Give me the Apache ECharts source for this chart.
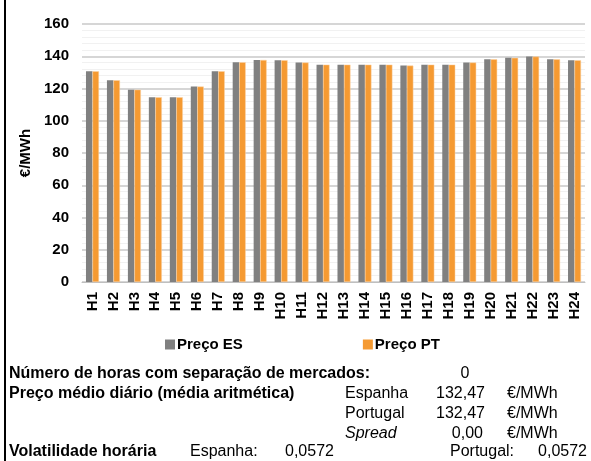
<!DOCTYPE html>
<html>
<head>
<meta charset="utf-8">
<script src="https://cdn.jsdelivr.net/npm/echarts@6/dist/echarts.min.js"></script>
<style>
  html, body { margin: 0; padding: 0; background: #fff; }
  #chart { width: 591px; height: 461px; }
</style>
</head>
<body>
<div id="chart"></div>
<script>
// dados
var horas = ['H1','H2','H3','H4','H5','H6','H7','H8','H9','H10','H11','H12',
             'H13','H14','H15','H16','H17','H18','H19','H20','H21','H22','H23','H24'];
var precoES = [130.7,125.1,119.3,114.6,114.6,121.2,130.7,136.3,137.7,137.5,136.1,134.8,
               134.8,134.8,134.8,134.2,134.8,134.8,136.1,138.1,139.0,139.8,138.1,137.5];
var precoPT = [130.7,125.1,119.3,114.6,114.6,121.2,130.7,136.3,137.7,137.5,136.1,134.8,
               134.8,134.8,134.8,134.2,134.8,134.8,136.1,138.1,139.0,139.8,138.1,137.5];
var yTicks = [0, 20, 40, 60, 80, 100, 120, 140, 160];

var chart = echarts.init(document.getElementById('chart'));
var fonte = 'Liberation Sans, Arial, sans-serif';

// texto da tabela em baixo
function txt(x, y, s, opts) {
    opts = opts || {};
    return {
        type: 'text', x: x, y: y,
        style: {
            text: s, fill: '#000',
            font: (opts.italic ? 'italic ' : '') + (opts.bold ? 'bold ' : '') + '16px ' + fonte,
            align: opts.align || 'left', verticalAlign: 'middle',
            textAlign: opts.align || 'left', textVerticalAlign: 'middle'
        }
    };
}

var option = {
    animation: false,
    textStyle: { fontFamily: fonte },
    grid: { left: 82, right: 6, top: 24, bottom: 179 },
    legend: {
        data: ['Preço ES', 'Preço PT'],
        left: 160, top: 332,
        itemWidth: 10, itemHeight: 10, itemGap: 120,
        icon: 'rect',
        itemStyle: { borderWidth: 0 },
        textStyle: { fontSize: 15, fontWeight: 'bold', color: '#000', fontFamily: fonte, padding: [0, 0, 0, -3] }
    },
    xAxis: {
        type: 'category',
        data: horas,
        axisLine: { lineStyle: { color: '#bfbfbf', width: 1 } },
        axisTick: { show: false },
        axisLabel: { rotate: 90, fontSize: 15, fontWeight: 'bold', color: '#000', margin: 10, interval: 0 }
    },
    yAxis: {
        type: 'value',
        min: yTicks[0], max: yTicks[yTicks.length - 1], interval: 20,
        name: '€/MWh',
        nameLocation: 'middle',
        nameGap: 46,
        nameRotate: 90,
        nameTextStyle: { fontSize: 15, fontWeight: 'bold', color: '#000' },
        axisLine: { show: false },
        axisTick: { show: false },
        axisLabel: { fontSize: 15, fontWeight: 'bold', color: '#000', margin: 13 },
        splitLine: { lineStyle: { color: '#c9c9c9', width: 1.5 } },
        minorTick: { show: false, splitNumber: 5 },
        minorSplitLine: { show: true, lineStyle: { color: '#f1f1f1', width: 1 } }
    },
    series: [
        {
            name: 'Preço ES', type: 'bar', data: precoES,
            itemStyle: { color: '#808080' },
            barWidth: 6.5, barGap: '0%'
        },
        {
            name: 'Preço PT', type: 'bar', data: precoPT,
            itemStyle: { color: '#f59a32', borderColor: '#fbd3a6', borderWidth: 0.5 },
            barWidth: 6.5
        }
    ],
    graphic: [
        { type: 'rect', left: 4, top: 0, shape: { width: 2, height: 461 }, style: { fill: '#000' } },
        txt(9, 374, 'Número de horas com separação de mercados:', { bold: true }),
        txt(465, 374, '0', { align: 'center' }),
        txt(9, 394, 'Preço médio diário (média aritmética)', { bold: true }),
        txt(345, 394, 'Espanha'),
        txt(485, 394, '132,47', { align: 'right' }),
        txt(507, 394, '€/MWh'),
        txt(345, 414, 'Portugal'),
        txt(485, 414, '132,47', { align: 'right' }),
        txt(507, 414, '€/MWh'),
        txt(345, 434, 'Spread', { italic: true }),
        txt(483, 434, '0,00', { align: 'right' }),
        txt(507, 434, '€/MWh'),
        txt(9, 452, 'Volatilidade horária', { bold: true }),
        txt(190, 452, 'Espanha:'),
        txt(285, 452, '0,0572'),
        txt(450, 452, 'Portugal:'),
        txt(587, 452, '0,0572', { align: 'right' })
    ]
};

chart.setOption(option);
</script>
</body>
</html>
